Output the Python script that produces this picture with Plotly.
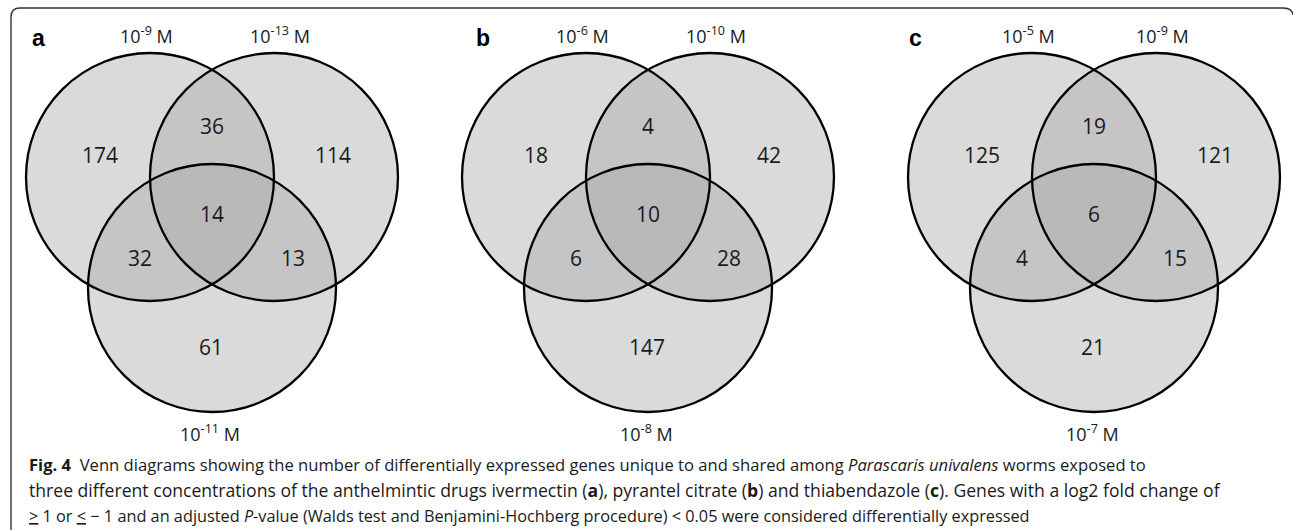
import plotly.graph_objects as go

# ---------------- data ----------------
panel_letters = ["a", "b", "c"]
# region counts, order: [A only, AB, B only, ABC, AC, BC, C only]
counts_a = [174, 36, 114, 14, 32, 13, 61]
counts_b = [18, 4, 42, 10, 6, 28, 147]
counts_c = [125, 19, 121, 6, 4, 15, 21]
# set labels (A = top-left, B = top-right, C = bottom)
sets_a = ["10<sup>-9</sup> M", "10<sup>-13</sup> M", "10<sup>-11</sup> M"]
sets_b = ["10<sup>-6</sup> M", "10<sup>-10</sup> M", "10<sup>-8</sup> M"]
sets_c = ["10<sup>-5</sup> M", "10<sup>-9</sup> M", "10<sup>-7</sup> M"]

caption_lines = [
    "<b>Fig. 4</b>  Venn diagrams showing the number of differentially expressed genes unique to and shared among "
    "<i>Parascaris univalens</i> worms exposed to",
    "three different concentrations of the anthelmintic drugs ivermectin (<b>a</b>), pyrantel citrate (<b>b</b>) "
    "and thiabendazole (<b>c</b>). Genes with a log2 fold change of",
    "<u>></u> 1 or <u><</u> \u2212 1 and an adjusted <i>P</i>-value (Walds test and Benjamini-Hochberg procedure) "
    "< 0.05 were considered differentially expressed",
]

# ---------------- layout geometry ----------------
W, H = 1293, 530
panel_x = [212, 648, 1094]
letter_x = [38, 483, 915]
cy = 177
R = 124
DX = 62
DY = 111
# label offsets relative to (panel_x, cy) for each region
offsets = [(-112, -22), (0, -51), (121, -22), (0, 37), (-72, 81), (81, 81), (-1, 170)]

FONT = "Open Sans"
fill_col = "rgb(170,170,170)"
fill_op = 0.44

fig = go.Figure()
shapes = []
annotations = []

all_counts = [counts_a, counts_b, counts_c]
all_sets = [sets_a, sets_b, sets_c]

for p in range(3):
    px = panel_x[p]
    centers = [(px - DX, cy), (px + DX, cy), (px, cy + DY)]
    # fills
    for (cx, cyy) in centers:
        shapes.append(dict(type="circle", xref="x", yref="y",
                           x0=cx - R, x1=cx + R, y0=cyy - R, y1=cyy + R,
                           fillcolor=fill_col, opacity=fill_op,
                           line=dict(width=0), layer="below"))
    # outlines
    for (cx, cyy) in centers:
        shapes.append(dict(type="circle", xref="x", yref="y",
                           x0=cx - R, x1=cx + R, y0=cyy - R, y1=cyy + R,
                           fillcolor="rgba(0,0,0,0)",
                           line=dict(width=2.3, color="black"), layer="above"))
    # region counts
    for val, (ox, oy) in zip(all_counts[p], offsets):
        annotations.append(dict(x=px + ox, y=cy + oy, xref="x", yref="y",
                                text=str(val), showarrow=False,
                                font=dict(family=FONT, size=21, color="#1a1a1a")))
    # set labels
    sl = all_sets[p]
    annotations.append(dict(x=px - 66, y=35, xref="x", yref="y", text=sl[0], showarrow=False,
                            font=dict(family=FONT, size=18, color="#1a1a1a")))
    annotations.append(dict(x=px + 68, y=35, xref="x", yref="y", text=sl[1], showarrow=False,
                            font=dict(family=FONT, size=18, color="#1a1a1a")))
    annotations.append(dict(x=px - 2, y=433, xref="x", yref="y", text=sl[2], showarrow=False,
                            font=dict(family=FONT, size=18, color="#1a1a1a")))
    # panel letter
    annotations.append(dict(x=letter_x[p], y=38, xref="x", yref="y", text="<b>%s</b>" % panel_letters[p],
                            showarrow=False,
                            font=dict(family="Liberation Sans", size=23, color="black")))

# caption
cap_y = [464, 490, 516]
cap_size = [16.6, 17.6, 16.3]
for line, yy, fs in zip(caption_lines, cap_y, cap_size):
    annotations.append(dict(x=27, y=yy, xref="x", yref="y", text=line, showarrow=False,
                            xanchor="left", yanchor="middle",
                            font=dict(family=FONT, size=fs, color="#1a1a1a")))

# border (rounded frame)
shapes.append(dict(type="path", xref="x", yref="y",
                   path="M 11,540 L 11,17 Q 11,8 20,8 L 1283,8 Q 1292,8 1293,15",
                   line=dict(color="#333333", width=1.4)))

fig.update_layout(
    width=W, height=H,
    margin=dict(l=0, r=0, t=0, b=0),
    paper_bgcolor="white", plot_bgcolor="white",
    xaxis=dict(range=[0, W], visible=False, fixedrange=True),
    yaxis=dict(range=[H, 0], visible=False, fixedrange=True),
    shapes=shapes, annotations=annotations,
    showlegend=False,
)

fig.write_html("out.html",
               config={"displayModeBar": False},
               post_script="document.body.style.margin='0px';document.body.style.overflow='hidden';")
